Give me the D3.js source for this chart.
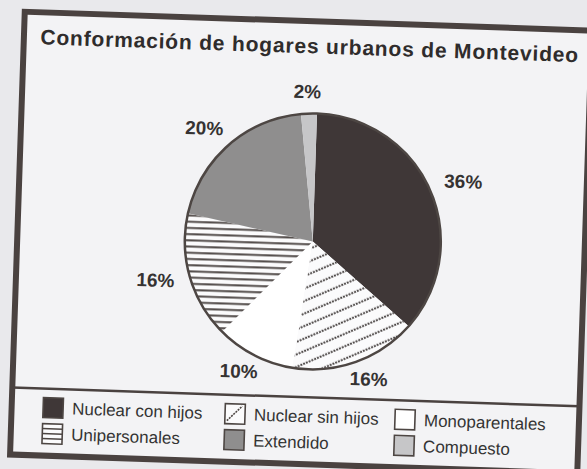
<!DOCTYPE html>
<html>
<head>
<meta charset="utf-8">
<script src="https://cdn.jsdelivr.net/npm/d3@7"></script>
<style>
  html, body { margin: 0; padding: 0; background: #e9e9ec; }
  svg { display: block; }
  text { font-family: "Liberation Sans", Arial, Helvetica, sans-serif; }
</style>
</head>
<body>
<script>
// ---- data ----
const title = "Conformación de hogares urbanos de Montevideo";
const categories = ["Nuclear con hijos", "Nuclear sin hijos", "Monoparentales", "Unipersonales", "Extendido", "Compuesto"];
const values = [36, 16, 10, 16, 20, 2];
const valueLabels = ["36%", "16%", "10%", "16%", "20%", "2%"];
const fills = ["#3f3737", "url(#diag)", "#ffffff", "url(#horiz)", "#8f8e8e", "#c6c6c8"];

// ---- layout ----
const W = 587, H = 469;
const svg = d3.select("body").append("svg").attr("width", W).attr("height", H);

const defs = svg.append("defs");
const diag = defs.append("pattern").attr("id", "diag").attr("patternUnits", "userSpaceOnUse")
  .attr("width", 12).attr("height", 11.5).attr("patternTransform", "rotate(-25)");
diag.append("rect").attr("width", 12).attr("height", 11.5).attr("fill", "#fbfbfc");
diag.append("line").attr("x1", 0).attr("x2", 12).attr("y1", 5.5).attr("y2", 5.5)
  .attr("stroke", "#4a4544").attr("stroke-width", 2).attr("stroke-dasharray", "2,1");
const horiz = defs.append("pattern").attr("id", "horiz").attr("patternUnits", "userSpaceOnUse")
  .attr("width", 10).attr("height", 6.2);
horiz.append("rect").attr("width", 10).attr("height", 6.2).attr("fill", "#fbfbfc");
horiz.append("line").attr("x1", 0).attr("x2", 10).attr("y1", 3).attr("y2", 3)
  .attr("stroke", "#524c4a").attr("stroke-width", 2);

const g = svg.append("g").attr("transform", "rotate(1.9, 300, 235)");

// frame
g.append("rect").attr("x", 17.5).attr("y", 21).attr("width", 567.5).attr("height", 443)
  .attr("fill", "#f3f3f5").attr("stroke", "#4a4240").attr("stroke-width", 6);

// title
g.append("text").attr("x", 303).attr("y", 53).attr("text-anchor", "middle")
  .attr("font-size", 21).attr("font-weight", "bold").attr("fill", "#2f2c2c")
  .attr("textLength", 538).attr("lengthAdjust", "spacing").text(title);

// pie
const cx = 313, cy = 241, R = 128;
const pie = d3.pie().sort(null).value(d => d)(values);
const arc = d3.arc().innerRadius(0).outerRadius(R);
const pg = g.append("g").attr("transform", `translate(${cx},${cy})`);
pg.selectAll("path.slice").data(pie).join("path").attr("class", "slice")
  .attr("d", arc).attr("fill", (d, i) => fills[i]);
pg.append("circle").attr("r", R).attr("fill", "none").attr("stroke", "#4d4643").attr("stroke-width", 2.5);

// value labels on an elliptical ring
const rx = 164, ry = 148;
pg.selectAll("text.lab").data(pie).join("text").attr("class", "lab")
  .attr("x", d => rx * Math.sin((d.startAngle + d.endAngle) / 2))
  .attr("y", d => -ry * Math.cos((d.startAngle + d.endAngle) / 2))
  .attr("dy", "0.25em").attr("text-anchor", "middle")
  .attr("font-size", 19).attr("font-weight", "bold").attr("fill", "#353232")
  .text((d, i) => valueLabels[i]);

// legend separator
g.append("line").attr("x1", 17.5).attr("x2", 585).attr("y1", 397).attr("y2", 397)
  .attr("stroke", "#4a4240").attr("stroke-width", 2.5);

// legend
const colX = d3.scaleOrdinal().domain([0, 1, 2]).range([59, 241, 411]);
const rowY = d3.scaleOrdinal().domain([0, 1]).range([416, 442]);
const S = 20;
const lg = g.append("g");
categories.forEach((c, i) => {
  const x = colX(i % 3), y = rowY(Math.floor(i / 3));
  const it = lg.append("g").attr("transform", `translate(${x},${y})`);
  const sw = it.append("rect").attr("x", -S / 2).attr("y", -S / 2).attr("width", S).attr("height", S)
    .attr("stroke", "#4d4643").attr("stroke-width", 1.6);
  if (fills[i] === "url(#diag)") {
    sw.attr("fill", "#fbfbfc");
    it.append("line").attr("x1", -S / 2 + 2).attr("y1", S / 2 - 3).attr("x2", S / 2 - 3).attr("y2", -S / 2 + 2)
      .attr("stroke", "#4d4643").attr("stroke-width", 1.6).attr("stroke-dasharray", "2,1");
  } else if (fills[i] === "url(#horiz)") {
    sw.attr("fill", "#fbfbfc");
    [-S / 4, 0, S / 4].forEach(yy => it.append("line").attr("x1", -S / 2).attr("x2", S / 2)
      .attr("y1", yy).attr("y2", yy).attr("stroke", "#4d4643").attr("stroke-width", 1.4));
  } else {
    sw.attr("fill", fills[i]);
  }
  it.append("text").attr("x", S / 2 + 9).attr("y", 0).attr("dy", "0.35em")
    .attr("font-size", 17).attr("fill", "#333").text(c);
});
</script>
</body>
</html>
